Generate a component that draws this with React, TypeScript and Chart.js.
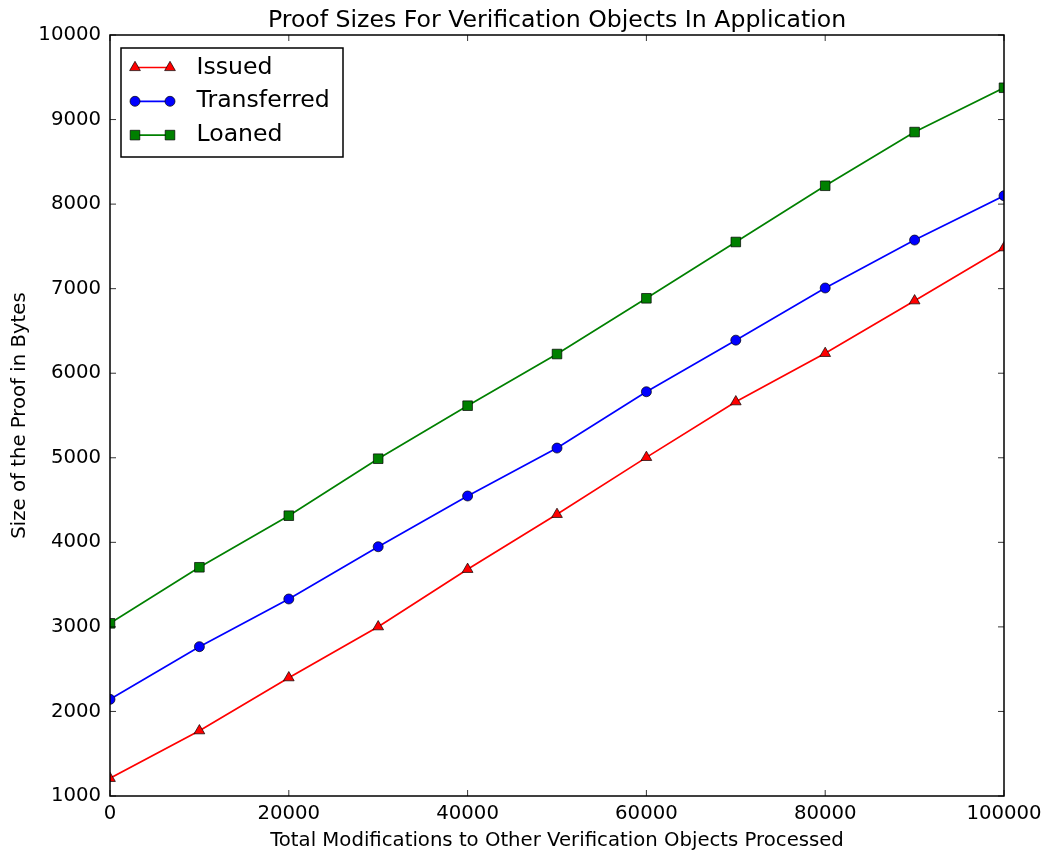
import React, { useEffect, useRef } from "react";
import { Chart, registerables } from "chart.js";

Chart.register(...registerables);

const xValues = [0, 10000, 20000, 30000, 40000, 50000, 60000, 70000, 80000, 90000, 100000];
const issued = [1209, 1772, 2399, 3002, 3681, 4331, 5005, 5663, 6235, 6857, 7484];
const transferred = [2143, 2766, 3330, 3948, 4548, 5115, 5781, 6391, 7008, 7575, 8099];
const loaned = [3042, 3705, 4315, 4989, 5616, 6227, 6886, 7552, 8217, 8852, 9376];

const xTicks = [0, 20000, 40000, 60000, 80000, 100000];
const yTicks = [1000, 2000, 3000, 4000, 5000, 6000, 7000, 8000, 9000, 10000];

const seriesLabels = ["Issued", "Transferred", "Loaned"];
const seriesColors = ["#ff0000", "#0000ff", "#008000"];
const seriesMarkers = ["triangle", "circle", "rect"];
const markerRadii = [6.2, 5, 6.8];

const titleText = "Proof Sizes For Verification Objects In Application";
const xTitle = "Total Modifications to Other Verification Objects Processed";
const yTitle = "Size of the Proof in Bytes";

const FONT = "'DejaVu Sans', 'Liberation Sans', sans-serif";
const SMALL = 19.7;
const LARGE = 23.6;

function drawMarker(ctx: CanvasRenderingContext2D, style: string, x: number, y: number, r: number, fill: string) {
  ctx.beginPath();
  if (style === "triangle") {
    for (let k = 0; k < 3; k++) {
      const a = (k * 2 * Math.PI) / 3;
      const px = x + Math.sin(a) * r;
      const py = y - Math.cos(a) * r;
      if (k === 0) ctx.moveTo(px, py);
      else ctx.lineTo(px, py);
    }
    ctx.closePath();
  } else if (style === "circle") {
    ctx.arc(x, y, r, 0, Math.PI * 2);
  } else {
    const s = Math.SQRT1_2 * r;
    ctx.rect(x - s, y - s, 2 * s, 2 * s);
  }
  ctx.fillStyle = fill;
  ctx.fill();
  ctx.lineWidth = 0.7;
  ctx.strokeStyle = "#000";
  ctx.stroke();
}

const mplPlugin = {
  id: "mplFrameLegend",
  afterDraw(chart: any) {
    const { ctx, chartArea, scales } = chart;
    const { left, right, top, bottom } = chartArea;
    ctx.save();
    const tl = 6;
    ctx.strokeStyle = "#000";
    ctx.lineWidth = 0.8;
    ctx.beginPath();
    for (const v of xTicks) {
      const x = scales.x.getPixelForValue(v);
      ctx.moveTo(x, bottom);
      ctx.lineTo(x, bottom - tl);
      ctx.moveTo(x, top);
      ctx.lineTo(x, top + tl);
    }
    for (const v of yTicks) {
      const y = scales.y.getPixelForValue(v);
      ctx.moveTo(left, y);
      ctx.lineTo(left + tl, y);
      ctx.moveTo(right, y);
      ctx.lineTo(right - tl, y);
    }
    ctx.stroke();
    ctx.lineWidth = 1.5;
    ctx.strokeRect(left, top, right - left, bottom - top);

    // legend
    const bx = left + 11;
    const by = top + 13;
    const bw = 222;
    const bh = 109;
    ctx.fillStyle = "#fff";
    ctx.fillRect(bx, by, bw, bh);
    ctx.lineWidth = 1.5;
    ctx.strokeStyle = "#000";
    ctx.strokeRect(bx, by, bw, bh);
    chart.data.datasets.forEach((ds: any, i: number) => {
      const cy = by + 19.5 + i * 33.8;
      const x1 = bx + 14;
      const x2 = bx + 49;
      ctx.beginPath();
      ctx.moveTo(x1, cy);
      ctx.lineTo(x2, cy);
      ctx.strokeStyle = seriesColors[i];
      ctx.lineWidth = 1.7;
      ctx.stroke();
      drawMarker(ctx, seriesMarkers[i], x1, cy, markerRadii[i], seriesColors[i]);
      drawMarker(ctx, seriesMarkers[i], x2, cy, markerRadii[i], seriesColors[i]);
      ctx.fillStyle = "#000";
      ctx.font = `${LARGE}px ${FONT}`;
      ctx.textAlign = "left";
      ctx.textBaseline = "middle";
      ctx.fillText(ds.label, bx + 75.5, cy);
    });
    ctx.restore();
  },
};

export default function App() {
  const canvasRef = useRef<HTMLCanvasElement | null>(null);

  useEffect(() => {
    if (!canvasRef.current) return;
    const seriesValues = [issued, transferred, loaned];
    const chart = new Chart(canvasRef.current, {
      type: "line",
      data: {
        datasets: seriesValues.map((vals, i) => ({
          label: seriesLabels[i],
          data: xValues.map((x, j) => ({ x, y: vals[j] })),
          borderColor: seriesColors[i],
          backgroundColor: seriesColors[i],
          borderWidth: 1.7,
          pointStyle: seriesMarkers[i] as any,
          pointRadius: markerRadii[i],
          pointBackgroundColor: seriesColors[i],
          pointBorderColor: "#000",
          pointBorderWidth: 0.7,
          tension: 0,
          fill: false,
        })),
      },
      options: {
        animation: false,
        responsive: false,
        devicePixelRatio: 1,
        events: [],
        layout: { padding: { left: 0, right: 38, top: 0, bottom: 0 } },
        plugins: {
          legend: { display: false },
          tooltip: { enabled: false },
          title: {
            display: true,
            fullSize: false,
            text: titleText,
            color: "#000",
            font: { family: FONT, size: LARGE, weight: "normal", lineHeight: "28px" as any },
            padding: { top: 7, bottom: 0 },
          },
        },
        scales: {
          x: {
            type: "linear",
            min: 0,
            max: 100000,
            grid: { display: false, drawTicks: false },
            border: { display: false },
            ticks: {
              stepSize: 20000,
              autoSkip: false,
              maxRotation: 0,
              color: "#000",
              padding: 6,
              font: { family: FONT, size: SMALL },
              callback: (v: any) => String(v),
            },
            title: {
              display: true,
              text: xTitle,
              color: "#000",
              font: { family: FONT, size: SMALL },
              padding: { top: 0, bottom: 0 },
            },
            afterFit: (s: any) => {
              s.height = 57;
              s.paddingLeft = 0;
              s.paddingRight = 0;
            },
          },
          y: {
            type: "linear",
            min: 1000,
            max: 10000,
            grid: { display: false, drawTicks: false },
            border: { display: false },
            ticks: {
              stepSize: 1000,
              autoSkip: false,
              color: "#000",
              padding: 9,
              font: { family: FONT, size: SMALL },
              callback: (v: any) => String(v),
            },
            title: {
              display: true,
              text: yTitle,
              color: "#000",
              font: { family: FONT, size: SMALL },
              padding: { top: 8, bottom: 0 },
            },
            afterFit: (s: any) => {
              s.width = 110;
              s.paddingTop = 0;
              s.paddingBottom = 0;
            },
          },
        },
      },
      plugins: [mplPlugin],
    });
    return () => chart.destroy();
  }, []);

  return (
    <div style={{ position: "fixed", left: 0, top: 0, width: 1042, height: 853, background: "#fff" }}>
      <canvas ref={canvasRef} width={1042} height={853} style={{ display: "block", width: 1042, height: 853 }} />
    </div>
  );
}
